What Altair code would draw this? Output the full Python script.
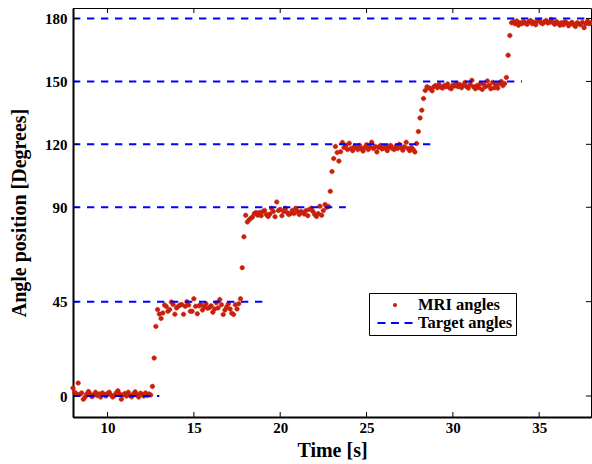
import altair as alt
import pandas as pd

# ---- data ----
seg_0 = [3.8, 1.8, 1.0, 6.2, 0.8, 1.5, -1.5, -0.5, 1.0, 2.2,
         1.0, -0.3, 0.5, 1.8, 0.2, 1.0, -0.5, 1.5, 0.8, 0.0,
         1.2, 1.8, 0.5, -0.5, 0.2, 1.5, 2.5, 1.0, -1.5, 0.5,
         1.2, 0.0, 1.8, 0.3, -0.4, 1.0, 2.0, 0.5, -0.5, 1.3,
         0.8, 0.0, 1.5, 0.2, 1.0, 0.5]
rise_1 = [4.6, 18.1, 33.2, 41.2, 39.1]
seg_45 = [37.0, 39.6, 43.4, 42.7, 40.4, 41.2, 44.8, 43.6, 39.0, 42.0,
          42.8, 43.4, 43.6, 39.0, 42.8, 45.0, 43.4, 40.4, 40.4, 46.4,
          42.8, 39.2, 43.0, 43.6, 41.0, 42.5, 44.0, 41.8, 42.2, 43.0,
          40.0, 41.5, 44.5, 42.0, 46.0, 43.5, 38.9, 41.0, 42.5, 44.0,
          41.5, 39.5, 38.9, 43.5, 41.5, 44.0]
rise_2 = [46.4, 61.2, 75.9, 86.2]
seg_90 = [83.0, 84.0, 84.8, 85.4, 87.0, 87.5, 86.2, 87.5, 86.0, 88.0,
          88.5, 86.5, 85.6, 86.8, 89.5, 88.0, 85.5, 92.5, 88.5, 89.0,
          86.0, 88.0, 89.5, 87.5, 86.5, 87.0, 88.5, 87.0, 89.5, 88.0,
          86.5, 88.0, 87.5, 86.8, 88.5, 86.0, 89.0, 89.5, 88.0, 86.5,
          85.6, 87.0, 90.5, 86.2, 88.4, 91.3, 90.0, 90.4]
rise_3 = [97.6, 107.0, 113.2, 119.0, 116.1, 112.0, 116.5, 120.9]
seg_120 = [118.5, 119.5, 117.5, 120.5, 118.0, 117.0, 119.0, 118.5, 117.5, 119.5,
           118.0, 116.8, 118.5, 119.8, 117.5, 118.8, 121.0, 118.0, 119.0, 116.4,
           118.5, 119.5, 117.8, 118.2, 119.0, 117.0, 118.5, 119.5, 118.0, 117.5,
           119.0, 118.0, 120.0, 118.5, 117.2, 118.8, 121.0, 118.0, 117.0, 118.5,
           117.5]
rise_4 = [116.4, 120.4, 126.1, 132.6, 136.3, 141.8, 145.7, 147.4]
seg_150 = [147.0, 146.5, 145.5, 147.5, 148.0, 147.0, 148.5, 147.2, 146.8, 148.0,
           147.5, 148.8, 147.0, 146.5, 148.2, 147.8, 149.0, 147.5, 148.5, 147.0,
           148.0, 149.5, 147.5, 146.8, 148.5, 150.5, 147.5, 146.5, 148.0, 147.0,
           149.0, 146.2, 148.5, 147.5, 150.2, 148.0, 146.5, 149.5, 147.0, 148.5,
           146.8, 149.0, 150.0, 148.0, 149.0]
rise_5 = [151.9, 162.5, 171.9, 178.0]
seg_180 = [178.5, 177.5, 178.8, 176.8, 178.0, 177.5, 178.5, 177.8, 177.2, 178.5,
           179.0, 177.5, 178.2, 177.0, 178.8, 179.2, 178.0, 177.5, 178.5, 179.0,
           177.8, 178.2, 179.5, 178.0, 177.2, 178.5, 177.8, 176.8, 178.0, 177.0,
           178.5, 177.8, 176.5, 177.5, 178.2, 177.0, 176.2, 178.0, 177.5, 177.0,
           178.2, 175.6, 177.5, 178.8, 177.5, 178.0]

angles = (seg_0 + rise_1 + seg_45 + rise_2 + seg_90 + rise_3 +
          seg_120 + rise_4 + seg_150 + rise_5 + seg_180)
T_START, T_STEP = 8.0, 0.1          # acquisition grid (10 Hz)
times = [round(T_START + T_STEP * i, 1) for i in range(len(angles))]

target_levels = [0, 45, 90, 120, 150, 180]
target_start = [8.0, 8.0, 8.0, 8.0, 8.0, 8.0]
target_end = [13.0, 19.0, 23.8, 29.0, 34.0, 38.0]

x_ticks = [10, 15, 20, 25, 30, 35]
y_ticks = [0, 45, 90, 120, 150, 180]
series_names = ["MRI angles", "Target angles"]

# ---- styling ----
W, H = 518, 409
FONT = "Liberation Serif"
RED = "#c8200a"
BLUE = "#0000ff"
# symbol unit = sqrt(size)/2 ; legend symbolSize 256 -> unit 8 px
DOT = "M-0.125,0A0.125,0.125,0,1,0,0.125,0A0.125,0.125,0,1,0,-0.125,0Z"
DASH = "M-2.19,0H-1.19M-0.5,0H0.5M1.19,0H2.19"

mri = pd.DataFrame({"t": times, "angle": angles, "series": series_names[0]})
tgt = pd.DataFrame({"t0": target_start, "t1": target_end,
                    "angle": target_levels, "series": series_names[1]})
xt = pd.DataFrame({"v": x_ticks})
yt = pd.DataFrame({"v": y_ticks})

xscale = alt.Scale(domain=[8, 38], nice=False, zero=False)
yscale = alt.Scale(domain=[-10, 185], nice=False, zero=False)

legend = alt.Legend(title=None, orient="none", legendX=296, legendY=285,
                    strokeColor="black", fillColor="white", padding=3,
                    labelFont=FONT, labelFontWeight="bold", labelFontSize=16.5,
                    labelColor="black", symbolSize=256, symbolStrokeWidth=2,
                    symbolOffset=14, rowPadding=0, labelOffset=14)

xaxis = alt.Axis(values=x_ticks, ticks=False, grid=False, labelFont=FONT,
                 labelFontWeight="bold", labelFontSize=15, labelColor="black",
                 labelPadding=3, title="Time [s]", titleFont=FONT,
                 titleFontWeight="bold", titleFontSize=20, titleColor="black",
                 titlePadding=5, domainColor="black", domainWidth=2)
yaxis = alt.Axis(values=y_ticks, ticks=False, grid=False, labelFont=FONT,
                 labelFontWeight="bold", labelFontSize=15, labelColor="black",
                 labelPadding=6, title="Angle position [Degrees]", titleFont=FONT,
                 titleFontWeight="bold", titleFontSize=20, titleColor="black",
                 titlePadding=15, domainColor="black", domainWidth=2)

points = alt.Chart(mri).mark_point(filled=True, size=1300, strokeWidth=0.6, opacity=1).encode(
    x=alt.X("t:Q", scale=xscale, axis=xaxis),
    y=alt.Y("angle:Q", scale=yscale, axis=yaxis),
    color=alt.Color("series:N", scale=alt.Scale(domain=series_names, range=[RED, BLUE]), legend=legend),
    stroke=alt.Stroke("series:N", scale=alt.Scale(domain=series_names, range=[RED, BLUE]), legend=legend),
    shape=alt.Shape("series:N", scale=alt.Scale(domain=series_names, range=[DOT, DASH]), legend=legend),
)

targets = alt.Chart(tgt).mark_rule(strokeWidth=2, strokeDash=[7.3, 6.7], clip=True).encode(
    x=alt.X("t0:Q", scale=xscale),
    x2="t1:Q",
    y=alt.Y("angle:Q", scale=yscale),
    color=alt.Color("series:N", scale=alt.Scale(domain=series_names, range=[RED, BLUE]), legend=legend),
)

tick_style = dict(color="black", strokeWidth=1)
bottom_ticks = alt.Chart(xt).mark_rule(**tick_style).encode(
    x=alt.X("v:Q", scale=xscale), y=alt.value(H), y2=alt.value(H - 5))
top_ticks = alt.Chart(xt).mark_rule(**tick_style).encode(
    x=alt.X("v:Q", scale=xscale), y=alt.value(0), y2=alt.value(5))
left_ticks = alt.Chart(yt).mark_rule(**tick_style).encode(
    y=alt.Y("v:Q", scale=yscale), x=alt.value(0), x2=alt.value(5))
right_ticks = alt.Chart(yt).mark_rule(**tick_style).encode(
    y=alt.Y("v:Q", scale=yscale), x=alt.value(W), x2=alt.value(W - 5))

chart = alt.layer(points, targets, bottom_ticks, top_ticks, left_ticks, right_ticks).properties(
    width=W, height=H,
    padding={"left": 73, "top": 8, "right": 1, "bottom": 47},
    autosize=alt.AutoSizeParams(type="none"),
    background="white",
).configure_view(stroke="black", strokeWidth=1)

chart.save("out.html", embed_options={"renderer": "svg", "actions": False})
